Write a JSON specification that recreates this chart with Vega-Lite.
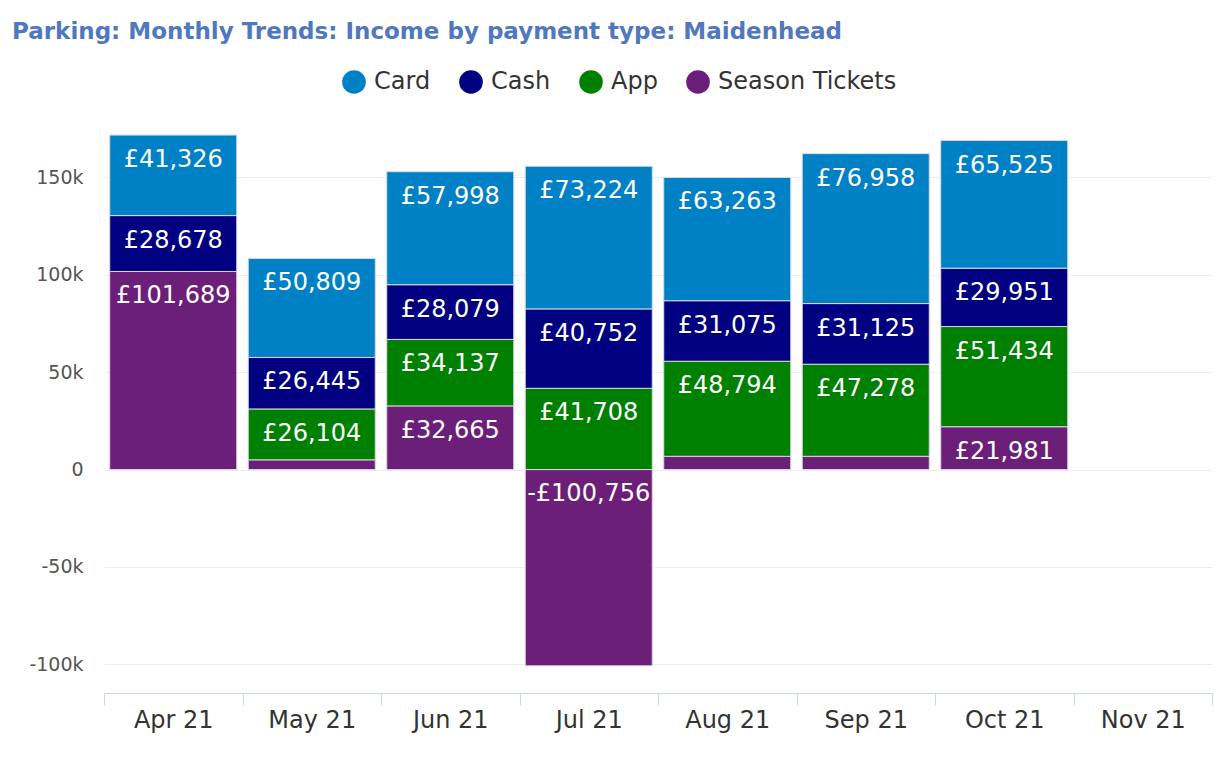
{"$schema":"https://vega.github.io/schema/vega-lite/v6.json","width":1108,"height":563,"autosize":{"type":"none"},"padding":{"left":104,"top":130,"right":12,"bottom":76},"background":"white","config":{"locale":{"number":{"decimal":".","thousands":",","grouping":[3],"currency":["£",""],"minus":"-"}},"view":{"stroke":null},"font":"DejaVu Sans"},"title":{"text":"Parking: Monthly Trends: Income by payment type: Maidenhead","anchor":"start","frame":"group","font":"DejaVu Sans","fontWeight":"bold","fontSize":23,"color":"#4F78BE","dx":-92,"dy":-26,"offset":0},"data":{"values":[
{"month":"Apr 21","series":"Season Tickets","value":101689},{"month":"Apr 21","series":"Cash","value":28678},{"month":"Apr 21","series":"Card","value":41326},
{"month":"May 21","series":"Season Tickets","value":5000},{"month":"May 21","series":"App","value":26104},{"month":"May 21","series":"Cash","value":26445},{"month":"May 21","series":"Card","value":50809},
{"month":"Jun 21","series":"Season Tickets","value":32665},{"month":"Jun 21","series":"App","value":34137},{"month":"Jun 21","series":"Cash","value":28079},{"month":"Jun 21","series":"Card","value":57998},
{"month":"Jul 21","series":"Season Tickets","value":-100756},{"month":"Jul 21","series":"App","value":41708},{"month":"Jul 21","series":"Cash","value":40752},{"month":"Jul 21","series":"Card","value":73224},
{"month":"Aug 21","series":"Season Tickets","value":6800},{"month":"Aug 21","series":"App","value":48794},{"month":"Aug 21","series":"Cash","value":31075},{"month":"Aug 21","series":"Card","value":63263},
{"month":"Sep 21","series":"Season Tickets","value":6800},{"month":"Sep 21","series":"App","value":47278},{"month":"Sep 21","series":"Cash","value":31125},{"month":"Sep 21","series":"Card","value":76958},
{"month":"Oct 21","series":"Season Tickets","value":21981},{"month":"Oct 21","series":"App","value":51434},{"month":"Oct 21","series":"Cash","value":29951},{"month":"Oct 21","series":"Card","value":65525}
]},"transform":[{"stack":"value","groupby":["month"],"as":["s0","s1"]}],"encoding":{"x":{"field":"month","type":"nominal","sort":["Apr 21","May 21","Jun 21","Jul 21","Aug 21","Sep 21","Oct 21","Nov 21"],"scale":{"domain":["Apr 21","May 21","Jun 21","Jul 21","Aug 21","Sep 21","Oct 21","Nov 21"],"paddingInner":0,"paddingOuter":0},"axis":{"title":null,"labelAngle":0,"labelFontSize":24,"labelColor":"#333333","labelPadding":3,"domainColor":"#CCD6EB","tickColor":"#CCD6EB","tickSize":12,"tickBand":"extent","grid":false}}},"layer":[{"mark":{"type":"bar","stroke":"#D8D8E0","strokeWidth":1,"width":{"band":0.917}},"encoding":{"y":{"field":"s0","type":"quantitative","scale":{"domain":[-114700,174300],"nice":false,"zero":false},"axis":{"title":null,"values":[-100000,-50000,0,50000,100000,150000],"labelExpr":"datum.value==0?'0':format(datum.value,'~s')","labelFontSize":19,"labelColor":"#555555","labelPadding":21,"domain":false,"ticks":false,"grid":true,"gridColor":"#EDEDF0"}},"y2":{"field":"s1"},"color":{"field":"series","type":"nominal","scale":{"domain":["Card","Cash","App","Season Tickets"],"range":["#0081C6","#000080","#008000","#6C1F78"]},"legend":{"title":null,"orient":"none","direction":"horizontal","legendX":238,"legendY":-60,"symbolType":"circle","symbolSize":560,"symbolStrokeWidth":0,"labelFontSize":24,"labelColor":"#333333","labelLimit":300,"columnPadding":28,"labelOffset":8,"symbolOffset":0}}}},{"transform":[{"filter":"datum.value>=10000"}],"mark":{"type":"text","color":"white","fontSize":24,"dy":25,"align":"center","baseline":"middle"},"encoding":{"y":{"field":"s1","type":"quantitative"},"text":{"field":"value","type":"quantitative","format":"$,"}}},{"transform":[{"filter":"datum.value<=-10000"}],"mark":{"type":"text","color":"white","fontSize":24,"dy":24,"align":"center","baseline":"middle"},"encoding":{"y":{"field":"s0","type":"quantitative"},"text":{"field":"value","type":"quantitative","format":"$,"}}}]}
